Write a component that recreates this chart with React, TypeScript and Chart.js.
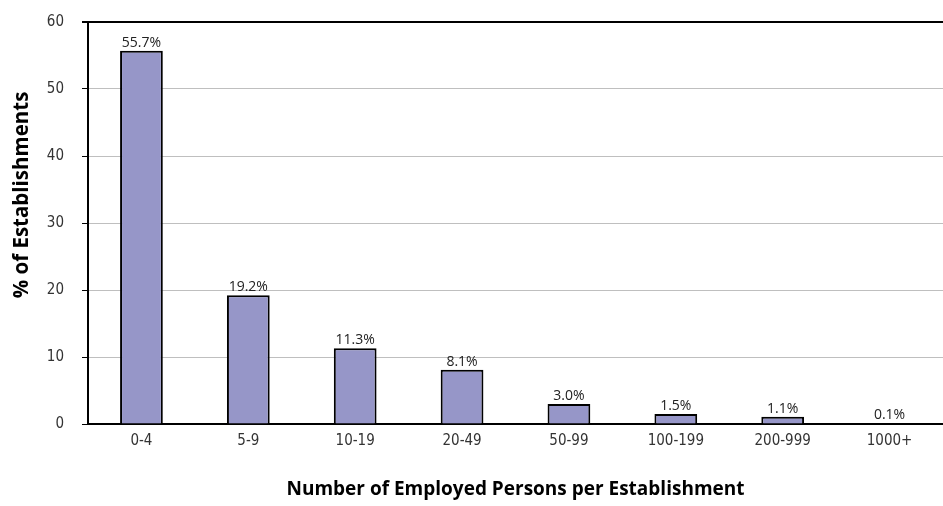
import React, { useEffect, useRef } from "react";
import { Chart, registerables } from "chart.js";

Chart.register(...registerables);

const categories = ["0-4", "5-9", "10-19", "20-49", "50-99", "100-199", "200-999", "1000+"];
const values = [55.7, 19.2, 11.3, 8.1, 3.0, 1.5, 1.1, 0.1];
const valueLabels = ["55.7%", "19.2%", "11.3%", "8.1%", "3.0%", "1.5%", "1.1%", "0.1%"];
const yTicks = [0, 10, 20, 30, 40, 50, 60];
const xTitle = "Number of Employed Persons per Establishment";
const yTitle = "% of Establishments";

const tickFont = { family: "'DejaVu Sans Condensed', 'Liberation Sans', sans-serif", size: 15 };

const labelPlugin = {
  id: "barLabels",
  afterDatasetsDraw(chart: any) {
    const ctx = chart.ctx;
    const meta = chart.getDatasetMeta(0);
    ctx.save();
    ctx.font = "14px 'Open Sans', sans-serif";
    ctx.fillStyle = "#222";
    ctx.textAlign = "center";
    ctx.textBaseline = "bottom";
    meta.data.forEach((el: any, i: number) => {
      ctx.fillText(valueLabels[i], el.x, el.y - 1);
    });
    ctx.restore();
  },
  afterDraw(chart: any) {
    const ctx = chart.ctx;
    ctx.save();
    ctx.font = "bold 20.5px 'Open Sans', sans-serif";
    ctx.fillStyle = "#000";
    ctx.textAlign = "center";
    ctx.textBaseline = "middle";
    ctx.translate(22, 195);
    ctx.rotate(-Math.PI / 2);
    ctx.fillText(yTitle, 0, 0);
    ctx.restore();
  },
};

export default function App() {
  const ref = useRef<HTMLCanvasElement>(null);
  useEffect(() => {
    const chart = new Chart(ref.current as HTMLCanvasElement, {
      type: "bar",
      data: {
        labels: categories,
        datasets: [
          {
            data: values,
            backgroundColor: "#9696C8",
            borderColor: "#000",
            borderWidth: 2,
            barPercentage: 0.4,
            categoryPercentage: 1,
          },
        ],
      },
      options: {
        animation: false,
        responsive: false,
        maintainAspectRatio: false,
        layout: { padding: { top: 22, right: 0, left: 0, bottom: 0 } },
        plugins: { legend: { display: false }, tooltip: { enabled: false } },
        scales: {
          x: {
            grid: { display: false },
            border: { display: true, color: "#000", width: 2 },
            ticks: {
              padding: 0,
              color: "#333",
              font: tickFont,
            },
            title: {
              display: true,
              text: xTitle,
              color: "#000",
              font: { family: "'Open Sans', sans-serif", size: 19, weight: "bold" },
              padding: { top: 5, bottom: 5 },
            },
            afterFit(scale: any) {
              scale.height = 82;
            },
          },
          y: {
            min: 0,
            max: 60,
            afterBuildTicks(scale: any) {
              scale.ticks = yTicks.map((v) => ({ value: v }));
            },
            grid: {
              color: (c: any) => (c.tick && (c.tick.value === 60 || c.tick.value === 0) ? "#000" : "#bfbfbf"),
              lineWidth: (c: any) => (c.tick && c.tick.value === 60 ? 2 : 1),
              tickColor: "#000",
              tickLength: 6,
            },
            border: { display: true, color: "#000", width: 2 },
            ticks: {
              padding: 18,
              color: "#333",
              font: tickFont,
            },
            title: { display: false },
            afterFit(scale: any) {
              scale.width = 88;
              scale.paddingTop = 0;
              scale.paddingBottom = 0;
            },
          },
        },
      },
      plugins: [labelPlugin],
    } as any);
    return () => chart.destroy();
  }, []);
  return (
    <div style={{ position: "fixed", left: 0, top: 0, width: 943, height: 506, background: "#fff" }}>
      <canvas ref={ref} width={943} height={506} style={{ width: 943, height: 506, display: "block" }} />
    </div>
  );
}
